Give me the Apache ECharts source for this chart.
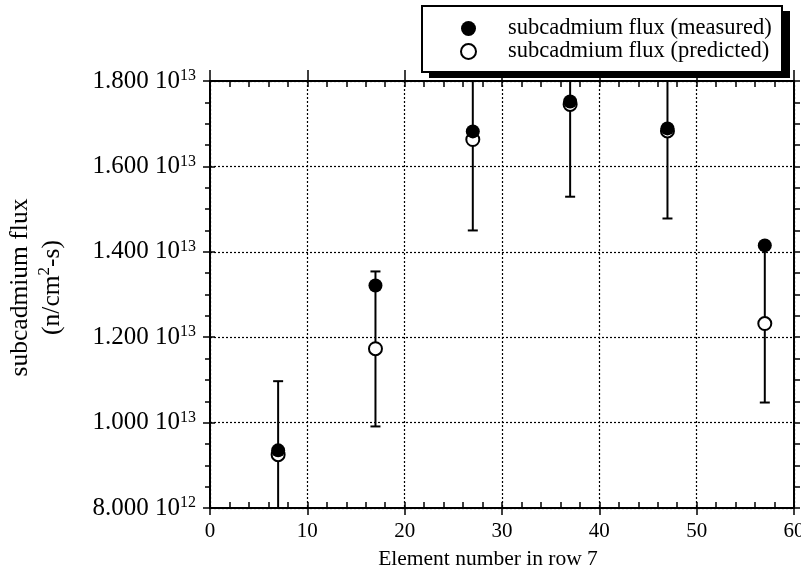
<!DOCTYPE html>
<html>
<head>
<meta charset="utf-8">
<script src="https://cdn.jsdelivr.net/npm/echarts@6/dist/echarts.min.js"></script>
<style>
html,body{margin:0;padding:0;background:#fff;}
#chart{width:801px;height:577px;}
</style>
</head>
<body>
<div id="chart"></div>
<script>
// ---- data ----
const elements = [7, 17, 27, 37, 47, 57];
const measured = [9.35e12, 1.321e13, 1.682e13, 1.752e13, 1.689e13, 1.415e13];
const predicted = [9.25e12, 1.173e13, 1.663e13, 1.745e13, 1.683e13, 1.232e13];
const errLow = [7.55e12, 9.91e12, 1.450e13, 1.529e13, 1.478e13, 1.047e13];
const errHigh = [1.097e13, 1.354e13, 1.88e13, 1.96e13, 1.89e13, 1.415e13];
const seriesNames = ['subcadmium flux (measured)', 'subcadmium flux (predicted)'];
const xTicks = [0, 10, 20, 30, 40, 50, 60];
const yTickMantissa = ['8.000', '1.000', '1.200', '1.400', '1.600', '1.800'];
const yTickExponent = ['12', '13', '13', '13', '13', '13'];
const xTitle = 'Element number in row 7';
const yTitle1 = 'subcadmium flux';
const yTitle2a = '(n/cm';
const yTitle2sup = '2';
const yTitle2b = '-s)';

const X_MIN = 0, X_MAX = 60, X_INT = 10;
const Y_MIN = 8e12, Y_MAX = 1.8e13, Y_INT = 2e12;
const FONT = 'Liberation Serif';

const chart = echarts.init(document.getElementById('chart'), null, {renderer: 'canvas'});

const blackLine = {color: '#000', width: 2};
const gridDots = {show: true, lineStyle: {color: '#000', width: 1.2, type: [2, 2]}};

function baseX(extra) {
  return Object.assign({
    type: 'value', min: X_MIN, max: X_MAX, interval: X_INT, gridIndex: 0,
    axisLine: {show: false, onZero: false},
    axisTick: {show: false},
    minorTick: {show: false},
    axisLabel: {show: false},
    splitLine: {show: false}
  }, extra);
}
function baseY(extra) {
  return Object.assign({
    type: 'value', min: Y_MIN, max: Y_MAX, interval: Y_INT, gridIndex: 0,
    axisLine: {show: false, onZero: false},
    axisTick: {show: false},
    minorTick: {show: false},
    axisLabel: {show: false},
    splitLine: {show: false}
  }, extra);
}

const option = {
  backgroundColor: '#fff',
  animation: false,
  grid: {left: 210, right: 7, top: 81, bottom: 69, containLabel: false, outerBoundsMode: 'none'},
  graphic: [
    {type: 'rect', left: 429, top: 11, z: 20, shape: {width: 361, height: 67}, style: {fill: '#000'}},
    {type: 'rect', left: 421, top: 5, z: 21, shape: {width: 360, height: 66}, style: {fill: '#fff', stroke: '#000', lineWidth: 2}}
  ],
  legend: {
    orient: 'vertical', left: 421, top: 5, z: 30,
    padding: [12, 12, 11, 39], itemGap: 0, itemWidth: 15, itemHeight: 15,
    selectedMode: false,
    textStyle: {fontFamily: FONT, fontSize: 22.5, color: '#000', lineHeight: 22, padding: [0, 0, 0, 27]},
    data: seriesNames
  },
  xAxis: [
    baseX({
      position: 'bottom',
      axisLine: {show: true, onZero: false, lineStyle: blackLine},
      axisTick: {show: true, inside: false, length: 7, lineStyle: {color: '#000', width: 1.5}},
      axisLabel: {show: true, color: '#000', fontFamily: FONT, fontSize: 21, margin: 13,
        formatter: function (v) { const i = xTicks.indexOf(v); return i >= 0 ? String(xTicks[i]) : ''; }},
      splitLine: gridDots,
      name: xTitle, nameLocation: 'middle', nameGap: 40,
      nameTextStyle: {color: '#000', fontFamily: FONT, fontSize: 21.5, padding: [0, 28, 0, 0]}
    }),
    baseX({
      position: 'bottom',
      axisTick: {show: true, inside: true, length: 6, lineStyle: {color: '#000', width: 1.5}},
      minorTick: {show: true, splitNumber: 5, length: 6, lineStyle: {color: '#000', width: 1.5}}
    }),
    baseX({
      position: 'top',
      axisLine: {show: true, onZero: false, lineStyle: blackLine},
      axisTick: {show: true, inside: false, length: 11, lineStyle: {color: '#000', width: 1.5}}
    }),
    baseX({
      position: 'top',
      axisTick: {show: true, inside: true, length: 6, lineStyle: {color: '#000', width: 1.5}},
      minorTick: {show: true, splitNumber: 5, length: 6, lineStyle: {color: '#000', width: 1.5}}
    })
  ],
  yAxis: [
    baseY({
      position: 'left',
      axisLine: {show: true, onZero: false, lineStyle: blackLine},
      axisTick: {show: true, inside: false, length: 7, lineStyle: {color: '#000', width: 1.5}},
      minorTick: {show: true, splitNumber: 4, length: 5, lineStyle: {color: '#000', width: 1.5}},
      axisLabel: {
        show: true, margin: 14, color: '#000', fontFamily: FONT,
        formatter: function (v) {
          const i = Math.round((v - Y_MIN) / Y_INT);
          return '{m|' + yTickMantissa[i] + ' 10}{e|' + yTickExponent[i] + '}';
        },
        rich: {
          m: {fontFamily: FONT, fontSize: 25, color: '#000', lineHeight: 26},
          e: {fontFamily: FONT, fontSize: 16, color: '#000', lineHeight: 15, verticalAlign: 'top'}
        }
      },
      splitLine: gridDots,
      name: '{a|' + yTitle1 + '}\n{a|' + yTitle2a + '}{s|' + yTitle2sup + '}{a|' + yTitle2b + '}',
      nameLocation: 'middle', nameRotate: 90, nameGap: 142,
      nameTextStyle: {
        color: '#000', fontFamily: FONT, padding: [0, 0, 0, 14],
        rich: {
          a: {fontFamily: FONT, fontSize: 25.5, color: '#000', lineHeight: 32},
          s: {fontFamily: FONT, fontSize: 17, color: '#000', lineHeight: 16, verticalAlign: 'top'}
        }
      }
    }),
    baseY({
      position: 'left',
      axisTick: {show: true, inside: true, length: 5, lineStyle: {color: '#000', width: 1.5}}
    }),
    baseY({
      position: 'right',
      axisLine: {show: true, onZero: false, lineStyle: blackLine},
      axisTick: {show: true, inside: false, length: 6, lineStyle: {color: '#000', width: 1.5}},
      minorTick: {show: true, splitNumber: 4, length: 6, lineStyle: {color: '#000', width: 1.5}}
    })
  ],
  series: [
    {
      type: 'custom', name: 'error', xAxisIndex: 0, yAxisIndex: 0, z: 1,
      data: elements.map((x, i) => [x, errLow[i], errHigh[i]]),
      encode: {x: 0, y: [1, 2]},
      renderItem: function (params, api) {
        const x = api.value(0);
        const lo = api.coord([x, api.value(1)]);
        const hi = api.coord([x, api.value(2)]);
        const cs = params.coordSys;
        const top = cs.y, bottom = cs.y + cs.height;
        const y1 = Math.max(hi[1], top), y2 = Math.min(lo[1], bottom);
        const st = {stroke: '#000', lineWidth: 2};
        const ch = [{type: 'line', shape: {x1: lo[0], y1: y1, x2: lo[0], y2: y2}, style: st}];
        if (hi[1] >= top) ch.push({type: 'line', shape: {x1: hi[0] - 5, y1: hi[1], x2: hi[0] + 5, y2: hi[1]}, style: st});
        if (lo[1] <= bottom) ch.push({type: 'line', shape: {x1: lo[0] - 5, y1: lo[1], x2: lo[0] + 5, y2: lo[1]}, style: st});
        return {type: 'group', children: ch};
      }
    },
    {
      type: 'scatter', name: seriesNames[1], xAxisIndex: 0, yAxisIndex: 0, z: 2,
      symbol: 'circle', symbolSize: 13,
      itemStyle: {color: '#fff', borderColor: '#000', borderWidth: 2, opacity: 1},
      data: elements.map((x, i) => [x, predicted[i]])
    },
    {
      type: 'scatter', name: seriesNames[0], xAxisIndex: 0, yAxisIndex: 0, z: 3,
      symbol: 'circle', symbolSize: 14,
      itemStyle: {color: '#000', opacity: 1},
      data: elements.map((x, i) => [x, measured[i]])
    }
  ]
};
chart.setOption(option);
</script>
</body>
</html>
